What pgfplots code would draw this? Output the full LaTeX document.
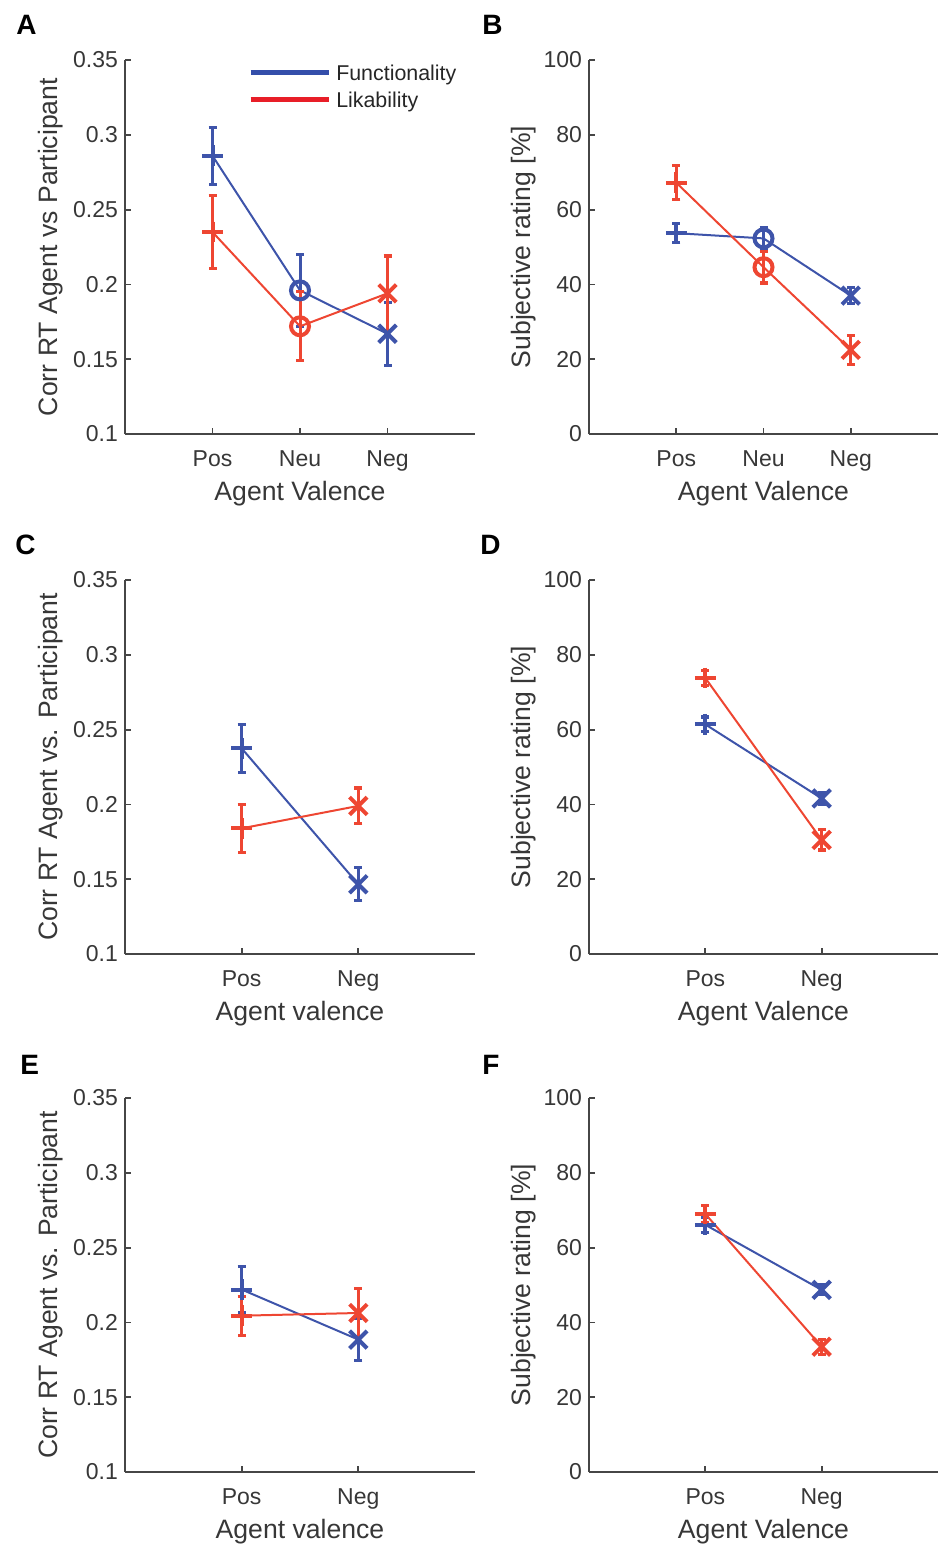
\documentclass[border=0pt]{standalone}
\usepackage{fontspec}
\setmainfont{Liberation Sans}
\usepackage{pgfplots}
\pgfplotsset{compat=1.18}
\definecolor{fblue}{RGB}{62,84,170}
\definecolor{lred}{RGB}{238,70,50}
\definecolor{legblue}{RGB}{52,78,170}
\definecolor{legred}{RGB}{232,30,40}
\definecolor{axgray}{RGB}{70,70,70}
\definecolor{txtgray}{RGB}{55,55,55}

\pgfplotsset{
  panel/.style={
    scale only axis,
    axis x line*=bottom, axis y line*=left,
    axis line style={axgray, line width=0.9pt},
    tick style={axgray, line width=0.9pt},
    major tick length=3pt,
    tick align=inside,
    xtick={1,2,3},
    ticklabel style={font=\fontsize{11.5}{13}\selectfont, text=txtgray},
    label style={font=\fontsize{13.3}{16}\selectfont, text=txtgray},
    xticklabel style={anchor=base, yshift=-16pt},
    x label style={at={(axis description cs:0.5,-0.1765)}, anchor=base},
    /pgf/number format/assume math mode=true,
    clip=false,
  },
  corr/.style={ymin=0.1, ymax=0.35, ytick={0.1,0.15,0.2,0.25,0.3,0.35},
    yticklabels={0.1,0.15,0.2,0.25,0.3,0.35},
    y label style={at={(axis description cs:-0.194,0.5)}, anchor=base}},
  rate/.style={ymin=0, ymax=100, ytick={0,20,40,60,80,100},
    yticklabels={0,20,40,60,80,100},
    y label style={at={(axis description cs:-0.169,0.5)}, anchor=base}},
  ser/.style={line width=1pt, mark=none,
    error bars/y dir=both, error bars/y explicit,
    error bars/error bar style={line width=1.5pt},
    error bars/error mark options={rotate=90, line width=1.6pt, mark size=2pt}},
  mk/.style={only marks, forget plot, mark options={line width=2pt, solid}},
  mp/.style={mk, mark=+, mark size=5.2pt},
  mo/.style={mk, mark=o, mark size=4.5pt},
  mx/.style={mk, mark=x, mark size=6.2pt},
}

\begin{document}
\begin{tikzpicture}
\useasboundingbox (0,0) rectangle (469.5pt,-772pt);

% ---------------- A ----------------
\begin{axis}[panel, corr, at={(62.5pt,-217pt)}, anchor=south west,
  width=175pt, height=187pt, xmin=0, xmax=4,
  xticklabels={Pos,Neu,Neg},
  xlabel={Agent Valence}, ylabel={Corr RT Agent vs Participant},
  legend style={at={(axis description cs:0.351,1)}, anchor=north west, yshift=-0.85pt,
    draw=none, fill=none, inner sep=0pt, column sep=1.5pt, row sep=1pt,
    font=\fontsize{10.7}{12}\selectfont, text=black!85,
    nodes={inner sep=1pt, text height=8pt, text depth=2.5pt}},
  legend cell align=left,
  legend image code/.code={\draw[#1, line width=2.5pt] (0pt,1.2pt) -- (39pt,1.2pt);}]
\addlegendimage{legblue}
\addlegendentry{Functionality}
\addlegendimage{legred}
\addlegendentry{Likability}
\addplot[fblue, ser, forget plot] table[x=x, y=y, y error=e] {
x y e
1 0.286 0.019
2 0.196 0.024
3 0.167 0.021
};
\addplot[fblue, mp] coordinates {(1,0.286)};
\addplot[fblue, mo] coordinates {(2,0.196)};
\addplot[fblue, mx] coordinates {(3,0.167)};
\addplot[lred, ser, forget plot] table[x=x, y=y, y error=e] {
x y e
1 0.235 0.0245
2 0.172 0.023
3 0.194 0.025
};
\addplot[lred, mp] coordinates {(1,0.235)};
\addplot[lred, mo] coordinates {(2,0.172)};
\addplot[lred, mx] coordinates {(3,0.194)};
\end{axis}

% ---------------- B ----------------
\begin{axis}[panel, rate, at={(294.5pt,-217pt)}, anchor=south west,
  width=174.5pt, height=187pt, xmin=0, xmax=4,
  xticklabels={Pos,Neu,Neg},
  xlabel={Agent Valence}, ylabel={Subjective rating [\%]}]
\addplot[fblue, ser, forget plot] table[x=x, y=y, y error=e] {
x y e
1 53.7 2.5
2 52.3 2.8
3 37.0 2.2
};
\addplot[fblue, mp] coordinates {(1,53.7)};
\addplot[fblue, mo] coordinates {(2,52.3)};
\addplot[fblue, mx] coordinates {(3,37.0)};
\addplot[lred, ser, forget plot] table[x=x, y=y, y error=e] {
x y e
1 67.2 4.5
2 44.6 4.2
3 22.5 3.9
};
\addplot[lred, mp] coordinates {(1,67.2)};
\addplot[lred, mo] coordinates {(2,44.6)};
\addplot[lred, mx] coordinates {(3,22.5)};
\end{axis}

% ---------------- C ----------------
\begin{axis}[panel, corr, at={(62.5pt,-477pt)}, anchor=south west,
  width=175pt, height=187pt, xmin=0, xmax=3, xtick={1,2},
  xticklabels={Pos,Neg},
  xlabel={Agent valence}, ylabel={Corr RT Agent vs. Participant}]
\addplot[fblue, ser, forget plot] table[x=x, y=y, y error=e] {
x y e
1 0.2375 0.016
2 0.1466 0.011
};
\addplot[fblue, mp] coordinates {(1,0.2375)};
\addplot[fblue, mx] coordinates {(2,0.1466)};
\addplot[lred, ser, forget plot] table[x=x, y=y, y error=e] {
x y e
1 0.184 0.016
2 0.199 0.012
};
\addplot[lred, mp] coordinates {(1,0.184)};
\addplot[lred, mx] coordinates {(2,0.199)};
\end{axis}

% ---------------- D ----------------
\begin{axis}[panel, rate, at={(294.5pt,-477pt)}, anchor=south west,
  width=174.5pt, height=187pt, xmin=0, xmax=3, xtick={1,2},
  xticklabels={Pos,Neg},
  xlabel={Agent Valence}, ylabel={Subjective rating [\%]}]
\addplot[fblue, ser, forget plot] table[x=x, y=y, y error=e] {
x y e
1 61.4 2.0
2 41.6 1.5
};
\addplot[fblue, mp] coordinates {(1,61.4)};
\addplot[fblue, mx] coordinates {(2,41.6)};
\addplot[lred, ser, forget plot] table[x=x, y=y, y error=e] {
x y e
1 73.8 2.0
2 30.5 2.7
};
\addplot[lred, mp] coordinates {(1,73.8)};
\addplot[lred, mx] coordinates {(2,30.5)};
\end{axis}

% ---------------- E ----------------
\begin{axis}[panel, corr, at={(62.5pt,-736pt)}, anchor=south west,
  width=175pt, height=187pt, xmin=0, xmax=3, xtick={1,2},
  xticklabels={Pos,Neg},
  xlabel={Agent valence}, ylabel={Corr RT Agent vs. Participant}]
\addplot[fblue, ser, forget plot] table[x=x, y=y, y error=e] {
x y e
1 0.222 0.0155
2 0.1885 0.014
};
\addplot[fblue, mp] coordinates {(1,0.222)};
\addplot[fblue, mx] coordinates {(2,0.1885)};
\addplot[lred, ser, forget plot] table[x=x, y=y, y error=e] {
x y e
1 0.2045 0.013
2 0.2063 0.0165
};
\addplot[lred, mp] coordinates {(1,0.2045)};
\addplot[lred, mx] coordinates {(2,0.2063)};
\end{axis}

% ---------------- F ----------------
\begin{axis}[panel, rate, at={(294.5pt,-736pt)}, anchor=south west,
  width=174.5pt, height=187pt, xmin=0, xmax=3, xtick={1,2},
  xticklabels={Pos,Neg},
  xlabel={Agent Valence}, ylabel={Subjective rating [\%]}]
\addplot[fblue, ser, forget plot] table[x=x, y=y, y error=e] {
x y e
1 66.1 2.0
2 48.7 1.3
};
\addplot[fblue, mp] coordinates {(1,66.1)};
\addplot[fblue, mx] coordinates {(2,48.7)};
\addplot[lred, ser, forget plot] table[x=x, y=y, y error=e] {
x y e
1 69.0 2.2
2 33.5 2.0
};
\addplot[lred, mp] coordinates {(1,69.0)};
\addplot[lred, mx] coordinates {(2,33.5)};
\end{axis}

% panel letters
\begin{scope}[every node/.style={anchor=north west, inner sep=0pt, font=\fontsize{14}{16}\selectfont\bfseries}]
\node at (8pt,-7.5pt) {A};
\node at (241pt,-7.5pt) {B};
\node at (7.5pt,-267.5pt) {C};
\node at (240pt,-267.5pt) {D};
\node at (10pt,-527.5pt) {E};
\node at (241pt,-527.5pt) {F};
\end{scope}
\end{tikzpicture}
\end{document}
